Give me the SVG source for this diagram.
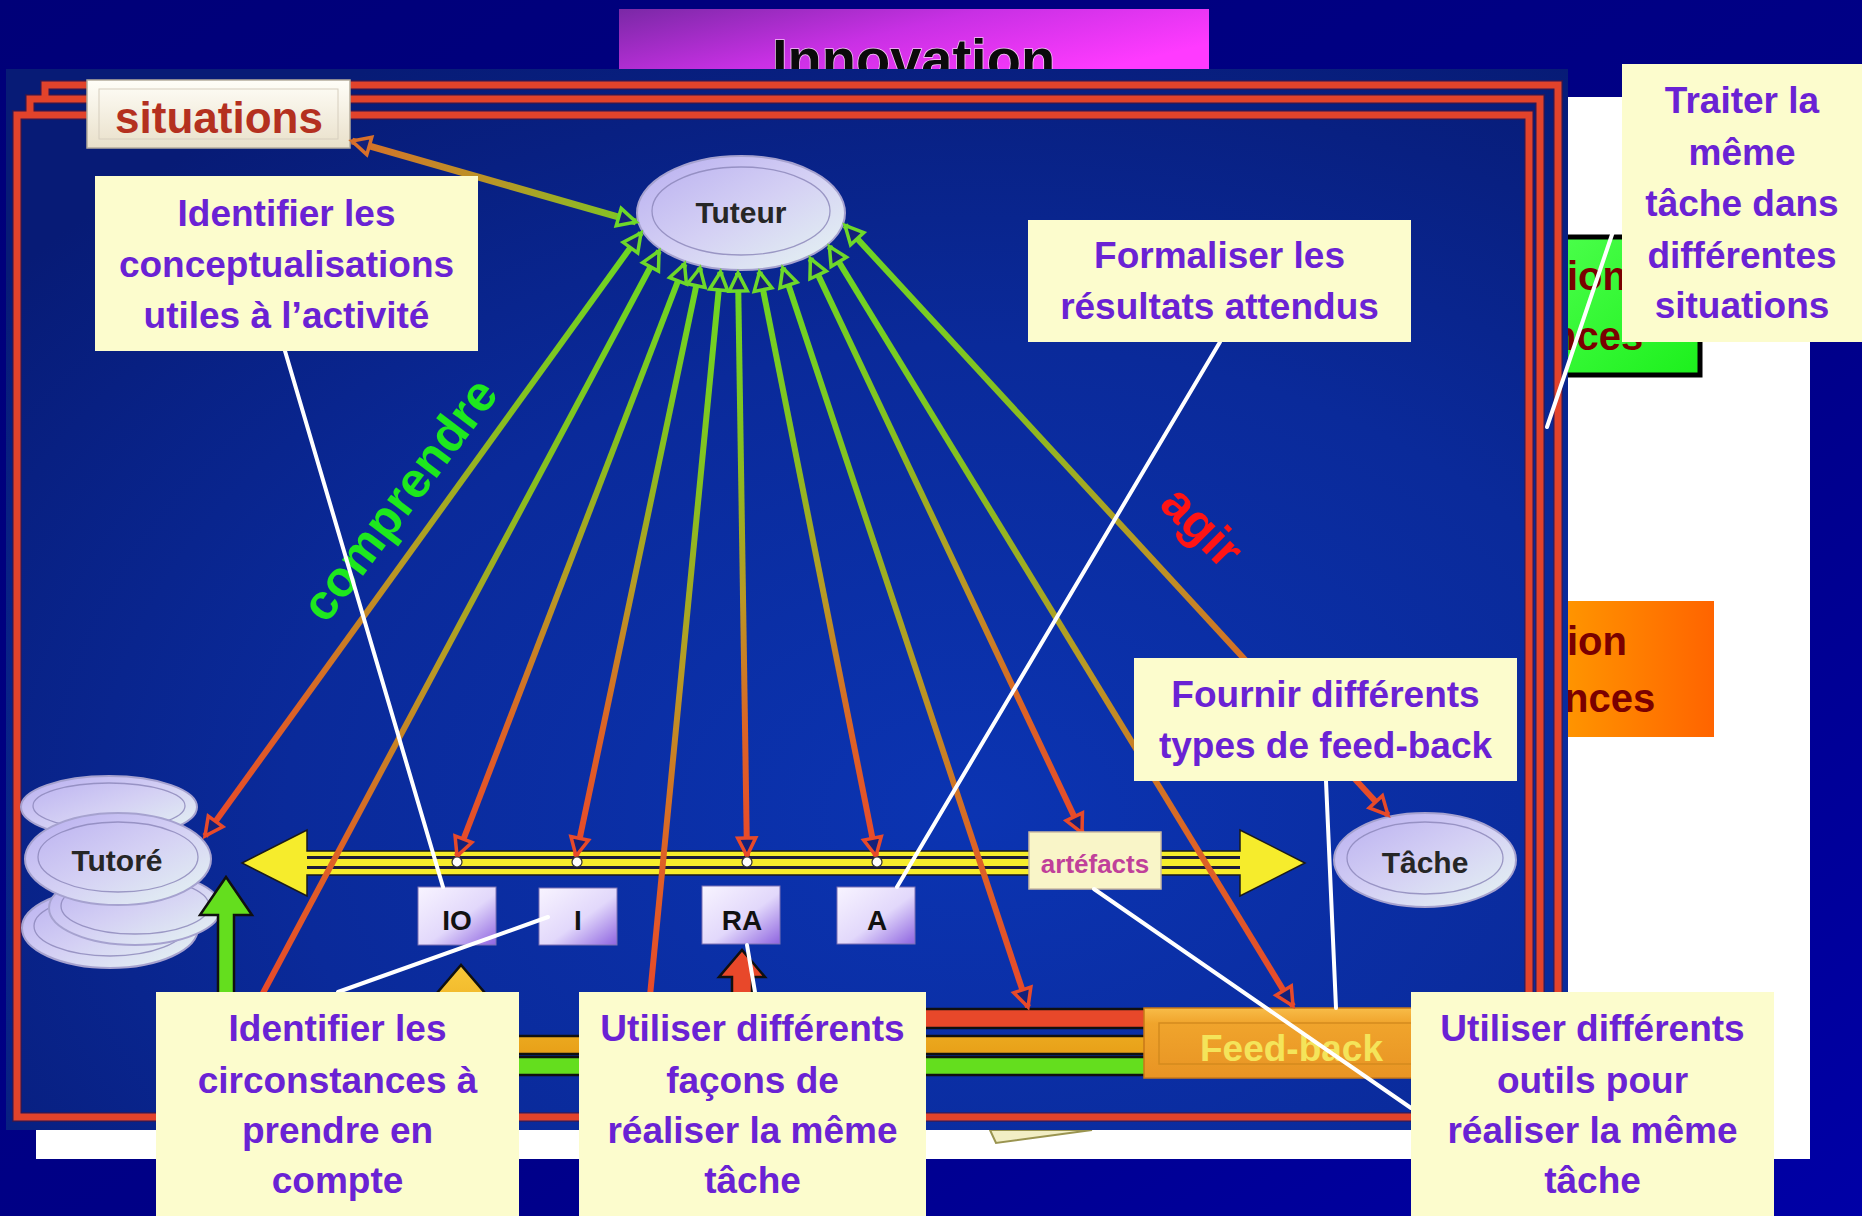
<svg xmlns="http://www.w3.org/2000/svg" width="1862" height="1216" viewBox="0 0 1862 1216">
  <style>
    .sans { font-family: "Liberation Sans", Arial, sans-serif; font-weight: bold; }
    .frame-line { fill: none; stroke: #e2432b; stroke-width: 7; }
    .frame-shade { fill: none; stroke: #4a1436; stroke-width: 10; opacity: 0.55; }
    .fan { fill: none; stroke: url(#fanG); stroke-width: 6; marker-start: url(#tipG); }
    .fan.to { marker-end: url(#tipR); }
    .oval { fill: url(#ovalG); stroke: #a6a2cf; stroke-width: 2; }
    .oval-ring { fill: none; stroke: #8a84b8; stroke-width: 1.3; opacity: 0.8; }
    .oval-label { font-size: 30px; fill: #262626; text-anchor: middle; }
    .tag rect { fill: url(#tagG); stroke: #7a70b4; stroke-width: 1; }
    .tag text { font-size: 28px; fill: #111; text-anchor: middle; }
    .dot { fill: #fff; stroke: #333; stroke-width: 1.2; }
    .bar { stroke: #101010; stroke-width: 2.5; stroke-linejoin: miter; }
    .ptr { fill: none; stroke: #fff; stroke-width: 4; stroke-linecap: round; }
    .callout rect { fill: #fcfccd; }
    .callout text { font-size: 37px; fill: #6a22d4; text-anchor: middle; }
    .hidden-text { font-size: 40px; fill: #7a0000; }
  </style>
  <defs>
    <linearGradient id="pageG" x1="0" y1="0" x2="1" y2="1">
      <stop offset="0" stop-color="#000078"/>
      <stop offset="0.6" stop-color="#000088"/>
      <stop offset="1" stop-color="#0000a6"/>
    </linearGradient>
    <linearGradient id="titleG" x1="0" y1="0" x2="1" y2="0.5">
      <stop offset="0" stop-color="#7a28a6"/>
      <stop offset="0.5" stop-color="#c830e4"/>
      <stop offset="1" stop-color="#ff3aff"/>
    </linearGradient>
    <radialGradient id="picG" cx="0.62" cy="0.7" r="0.8">
      <stop offset="0" stop-color="#0b34b2"/>
      <stop offset="0.55" stop-color="#0a2a9a"/>
      <stop offset="1" stop-color="#071b76"/>
    </radialGradient>
    <linearGradient id="fanG" x1="0" y1="0" x2="0" y2="1">
      <stop offset="0" stop-color="#6cd824"/>
      <stop offset="0.3" stop-color="#86c020"/>
      <stop offset="0.55" stop-color="#b89a24"/>
      <stop offset="0.78" stop-color="#dc6426"/>
      <stop offset="1" stop-color="#e8482a"/>
    </linearGradient>
    <linearGradient id="sitLinkG" gradientUnits="userSpaceOnUse" x1="352" y1="141" x2="636" y2="222">
      <stop offset="0" stop-color="#d8702a"/>
      <stop offset="0.5" stop-color="#b89626"/>
      <stop offset="1" stop-color="#7cc824"/>
    </linearGradient>
    <linearGradient id="ovalG" x1="0" y1="0" x2="1" y2="1">
      <stop offset="0" stop-color="#b8aef0"/>
      <stop offset="0.5" stop-color="#d4d0f4"/>
      <stop offset="1" stop-color="#e6f6f2"/>
    </linearGradient>
    <linearGradient id="tagG" x1="0" y1="0" x2="1" y2="1">
      <stop offset="0" stop-color="#f8f4ff"/>
      <stop offset="0.55" stop-color="#e2d8fb"/>
      <stop offset="1" stop-color="#8e64e0"/>
    </linearGradient>
    <linearGradient id="sitG" x1="0" y1="0" x2="0" y2="1">
      <stop offset="0" stop-color="#fffef8"/>
      <stop offset="1" stop-color="#e9e0ca"/>
    </linearGradient>
    <linearGradient id="fbG" x1="0" y1="0" x2="0" y2="1">
      <stop offset="0" stop-color="#f8bc48"/>
      <stop offset="0.22" stop-color="#f0a42c"/>
      <stop offset="1" stop-color="#e89424"/>
    </linearGradient>
    <linearGradient id="goldG" x1="0" y1="0" x2="0" y2="1">
      <stop offset="0" stop-color="#f8c838"/>
      <stop offset="1" stop-color="#e8a018"/>
    </linearGradient>
    <linearGradient id="greenBoxG" x1="0" y1="0" x2="1" y2="1">
      <stop offset="0" stop-color="#4cff4c"/>
      <stop offset="1" stop-color="#1cf01c"/>
    </linearGradient>
    <linearGradient id="orangeBoxG" x1="0" y1="0" x2="1" y2="0">
      <stop offset="0" stop-color="#ff9a00"/>
      <stop offset="1" stop-color="#ff6400"/>
    </linearGradient>
    <marker id="tipG" viewBox="0 0 22 22" refX="20" refY="11" markerWidth="22" markerHeight="22" markerUnits="userSpaceOnUse" orient="auto-start-reverse" overflow="visible">
      <path d="M2,2 L20,11 L2,20 Z" fill="#14207a" stroke="#6ed82a" stroke-width="3.5"/>
    </marker>
    <marker id="tipR" viewBox="0 0 22 22" refX="20" refY="11" markerWidth="22" markerHeight="22" markerUnits="userSpaceOnUse" orient="auto" overflow="visible">
      <path d="M2,2 L20,11 L2,20 Z" fill="#14207a" stroke="#e84a2a" stroke-width="3.5"/>
    </marker>
    <marker id="tipO" viewBox="0 0 22 22" refX="20" refY="11" markerWidth="22" markerHeight="22" markerUnits="userSpaceOnUse" orient="auto" overflow="visible">
      <path d="M2,2 L20,11 L2,20 Z" fill="#14207a" stroke="#d8702a" stroke-width="3.5"/>
    </marker>
  </defs>

  <!-- backdrop -->
  <rect width="1862" height="1216" fill="url(#pageG)"/>

  <!-- title banner, mostly hidden behind the picture -->
  <g id="innovation">
    <rect x="619" y="9" width="590" height="70" fill="url(#titleG)"/>
    <text class="sans" x="772" y="78" font-size="56" fill="#0a0a0a" stroke="#f6c8f6" stroke-width="1.5" paint-order="stroke">Innovation</text>
  </g>

  <!-- white slide behind the picture -->
  <rect x="36" y="97" width="1774" height="1062" fill="#ffffff"/>

  <g id="box-green">
    <rect x="1550" y="237" width="150" height="138" fill="url(#greenBoxG)" stroke="#000" stroke-width="5"/>
    <text class="sans hidden-text" x="1567" y="290">ion</text>
    <text class="sans hidden-text" x="1552" y="350">nces</text>
  </g>
  <g id="box-orange">
    <rect x="1550" y="601" width="164" height="136" fill="url(#orangeBoxG)"/>
    <text class="sans hidden-text" x="1567" y="655">ion</text>
    <text class="sans hidden-text" x="1564" y="712">nces</text>
  </g>
  <polygon points="990,1130 996,1143 1092,1130" fill="#f2eec4" stroke="#9a9450" stroke-width="2"/>

  <!-- picture panel -->
  <rect x="6" y="69" width="1562" height="1061" fill="url(#picG)"/>

  <!-- stacked red page outlines: only the front page is closed, the two
       pages behind it show as steps along the top and right edges -->
  <g id="frame">
    <path class="frame-shade" d="M45,99 V85 H1558 V1089 H1540"/>
    <path class="frame-shade" d="M30,115 V99 H1540 V1103 H1529"/>
    <path class="frame-shade" d="M17,115 H1529 V1117 H17 Z"/>
    <path class="frame-line" d="M45,99 V85 H1558 V1089 H1540"/>
    <path class="frame-line" d="M30,115 V99 H1540 V1103 H1529"/>
    <path class="frame-line" d="M17,115 H1529 V1117 H17 Z"/>
  </g>

  <g id="situations">
    <rect x="87" y="80" width="263" height="68" fill="url(#sitG)" stroke="#b4ac9c" stroke-width="1.5"/>
    <rect x="99" y="89" width="239" height="50" fill="none" stroke="#d6cebe" stroke-width="1"/>
    <text class="sans" x="219" y="133" font-size="44" fill="#b4301f" text-anchor="middle">situations</text>
  </g>

  <!-- oval nodes -->
  <g id="tutore">
    <ellipse class="oval" cx="110" cy="928" rx="88" ry="40"/>
    <ellipse class="oval-ring" cx="110" cy="926" rx="76" ry="30"/>
    <ellipse class="oval" cx="135" cy="908" rx="86" ry="37"/>
    <ellipse class="oval-ring" cx="135" cy="906" rx="74" ry="28"/>
    <ellipse class="oval" cx="109" cy="807" rx="88" ry="31"/>
    <ellipse class="oval-ring" cx="109" cy="806" rx="76" ry="23"/>
    <ellipse class="oval" cx="118" cy="859" rx="93" ry="46"/>
    <ellipse class="oval-ring" cx="118" cy="857" rx="80" ry="35"/>
    <text class="sans oval-label" x="117" y="871">Tutoré</text>
  </g>
  <g id="tache">
    <ellipse class="oval" cx="1425" cy="860" rx="91" ry="47"/>
    <ellipse class="oval-ring" cx="1425" cy="858" rx="78" ry="36"/>
    <text class="sans oval-label" x="1425" y="873" font-size="29">Tâche</text>
  </g>
  <g id="tuteur">
    <ellipse class="oval" cx="741" cy="213" rx="104" ry="57"/>
    <ellipse class="oval-ring" cx="741" cy="211" rx="89" ry="44"/>
    <text class="sans oval-label" x="741" y="223">Tuteur</text>
  </g>

  <!-- return flows into the feed-back bar -->
  <g id="flows">
    <polygon class="bar" fill="#64de1e" points="1150,1057 234,1057 234,915 252,915 226,877 200,915 218,915 218,1075 1150,1075"/>
    <polygon class="bar" fill="url(#goldG)" points="1150,1036 471,1036 471,1000 491,1000 461,965 431,1000 452,1000 452,1054 1150,1054"/>
    <polygon class="bar" fill="#e8482a" points="1150,1009 752,1009 752,977 765,977 742,950 719,977 732,977 732,1028 1150,1028"/>
  </g>

  <g id="feedback">
    <rect x="1144" y="1008" width="300" height="70" fill="url(#fbG)" stroke="#c87818" stroke-width="1.5"/>
    <rect x="1159" y="1023" width="280" height="41" fill="none" stroke="#d48a1e" stroke-width="1.5"/>
    <text class="sans" x="1200" y="1061" font-size="37" fill="#f4e45a">Feed-back</text>
  </g>

  <!-- double-headed activity axis -->
  <g id="axis">
    <path d="M242,863 L307,830 L307,851 L1240,851 L1240,830 L1305,863 L1240,896 L1240,875 L307,875 L307,896 Z" fill="#f6ec2c" stroke="#1a1a1a" stroke-width="1.5"/>
    <path d="M307,857.5 H1240 M307,867.5 H1240" stroke="#1c1c3a" stroke-width="3"/>
  </g>

  <g id="connectors">
    <path d="M636,222 L352,141" fill="none" stroke="url(#sitLinkG)" stroke-width="7" marker-start="url(#tipG)" marker-end="url(#tipO)"/>
    <path class="fan to" d="M641,233 L205,836"/>
    <path class="fan" d="M659,251 L256,1006"/>
    <path class="fan to" d="M684.5,264 L457,856"/>
    <path class="fan to" d="M700,268 L576,856"/>
    <path class="fan" d="M720.5,272 L649,1006"/>
    <path class="fan to" d="M738,273 L747,856"/>
    <path class="fan to" d="M759.5,272 L876,856"/>
    <path class="fan to" d="M782.8,268 L1028,1007"/>
    <path class="fan to" d="M810.4,258.6 L1082,833"/>
    <path class="fan to" d="M829.4,246.5 L1293,1006"/>
    <path class="fan to" d="M845,225.4 L1388,815"/>
  </g>

  <!-- anchor points on the axis -->
  <g id="anchors">
    <circle class="dot" cx="457" cy="862" r="5"/>
    <circle class="dot" cx="577" cy="862" r="5"/>
    <circle class="dot" cx="747" cy="862" r="5"/>
    <circle class="dot" cx="877" cy="862" r="5"/>
  </g>

  <g id="io" class="tag">
    <rect x="418" y="887" width="78" height="58"/>
    <text class="sans" x="457" y="930">IO</text>
  </g>
  <g id="i" class="tag">
    <rect x="539" y="888" width="78" height="57"/>
    <text class="sans" x="578" y="930">I</text>
  </g>
  <g id="ra" class="tag">
    <rect x="702" y="886" width="78" height="58"/>
    <text class="sans" x="742" y="930">RA</text>
  </g>
  <g id="a" class="tag">
    <rect x="837" y="887" width="78" height="57"/>
    <text class="sans" x="877" y="930">A</text>
  </g>

  <g id="artefacts">
    <rect x="1029" y="832" width="132" height="57" fill="#f9f5c8" stroke="#cbbba2" stroke-width="1.5"/>
    <text class="sans" x="1095" y="873" font-size="26" fill="#c0409a" text-anchor="middle">artéfacts</text>
  </g>

  <text class="sans" font-size="50" fill="#1ee81e" transform="translate(326,625) rotate(-53)">comprendre</text>
  <text class="sans" font-size="50" fill="#ff1414" transform="translate(1158,506) rotate(45)">agir</text>

  <!-- callout pointers -->
  <g id="pointers">
    <path class="ptr" d="M285,351 L443,887"/>
    <path class="ptr" d="M1220,342 L897,887"/>
    <path class="ptr" d="M1622,205 L1547,427"/>
    <path class="ptr" d="M1326,781 L1336,1008"/>
    <path class="ptr" d="M338,992 L548,917"/>
    <path class="ptr" d="M755,992 L747,945"/>
    <path class="ptr" d="M1094,889 L1411,1108"/>
  </g>

  <g id="callout-conceptualisations" class="callout">
    <rect x="95" y="176" width="383" height="175"/>
    <text class="sans"><tspan x="286.5" y="226">Identifier les</tspan><tspan x="286.5" y="277">conceptualisations</tspan><tspan x="286.5" y="328">utiles à l’activité</tspan></text>
  </g>
  <g id="callout-resultats" class="callout">
    <rect x="1028" y="220" width="383" height="122"/>
    <text class="sans"><tspan x="1219.5" y="268">Formaliser les</tspan><tspan x="1219.5" y="319">résultats attendus</tspan></text>
  </g>
  <g id="callout-situations" class="callout">
    <rect x="1622" y="64" width="240" height="278"/>
    <text class="sans"><tspan x="1742" y="113">Traiter la</tspan><tspan x="1742" y="165">même</tspan><tspan x="1742" y="216">tâche dans</tspan><tspan x="1742" y="268">différentes</tspan><tspan x="1742" y="318">situations</tspan></text>
  </g>
  <g id="callout-feedback" class="callout">
    <rect x="1134" y="658" width="383" height="123"/>
    <text class="sans"><tspan x="1325.5" y="707">Fournir différents</tspan><tspan x="1325.5" y="758">types de feed-back</tspan></text>
  </g>
  <g id="callout-circonstances" class="callout">
    <rect x="156" y="992" width="363" height="230"/>
    <text class="sans"><tspan x="337.5" y="1041">Identifier les</tspan><tspan x="337.5" y="1093">circonstances à</tspan><tspan x="337.5" y="1143">prendre en</tspan><tspan x="337.5" y="1193">compte</tspan></text>
  </g>
  <g id="callout-facons" class="callout">
    <rect x="579" y="992" width="347" height="230"/>
    <text class="sans"><tspan x="752.5" y="1041">Utiliser différents</tspan><tspan x="752.5" y="1093">façons de</tspan><tspan x="752.5" y="1143">réaliser la même</tspan><tspan x="752.5" y="1193">tâche</tspan></text>
  </g>
  <g id="callout-outils" class="callout">
    <rect x="1411" y="992" width="363" height="230"/>
    <text class="sans"><tspan x="1592.5" y="1041">Utiliser différents</tspan><tspan x="1592.5" y="1093">outils pour</tspan><tspan x="1592.5" y="1143">réaliser la même</tspan><tspan x="1592.5" y="1193">tâche</tspan></text>
  </g>
</svg>
